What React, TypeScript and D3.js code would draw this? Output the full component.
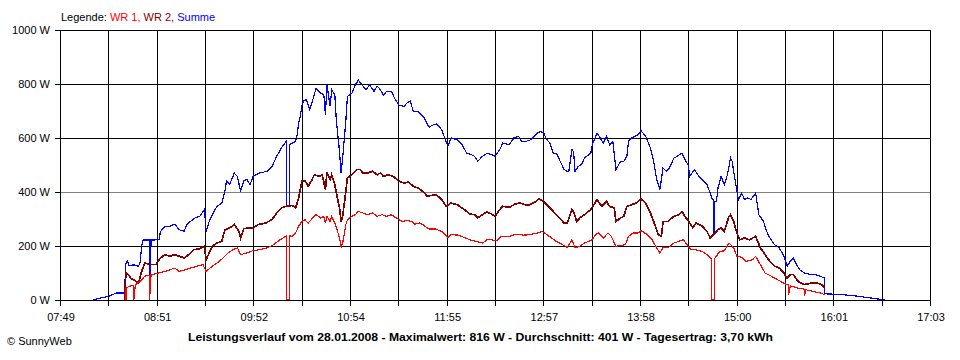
import React from 'react';
import * as d3 from 'd3';

// time in minutes since midnight, value in W
const wr1: [number, number][] = [
[511,0],[511,44],[513,50],[516,55],[516,0],[517,57],[520,69],[523,88],[526,92],[526,0],[527,94],[532,100],[536,106],[539,112],[542,118],[545,106],[549,112],[552,118],[556,125],[560,131],[562,106],[566,125],[569,137],[573,156],[576,174],[579,186],[582,193],[584,168],[588,174],[592,183],[596,186],[601,193],[605,205],[609,223],[613,236],[613,0],[615,0],[615,238],[617,236],[619,248],[621,273],[623,291],[625,297],[627,285],[630,304],[632,316],[635,304],[637,310],[638,285],[639,310],[641,291],[642,310],[644,285],[645,267],[647,230],[648,195],[649,211],[651,279],[652,297],[655,310],[657,316],[659,328],[662,322],[665,316],[668,322],[671,310],[674,316],[677,310],[680,316],[683,304],[687,291],[690,294],[693,291],[695,281],[698,285],[700,279],[704,263],[708,263],[712,254],[716,232],[718,242],[723,240],[727,230],[731,221],[734,217],[738,211],[741,223],[744,223],[747,219],[750,236],[755,236],[760,244],[764,240],[768,242],[773,248],[776,254],[779,242],[782,230],[785,217],[789,205],[792,195],[795,223],[797,193],[800,199],[803,211],[808,223],[810,242],[812,248],[815,230],[818,248],[820,236],[823,199],[826,202],[829,205],[831,236],[834,248],[837,248],[839,257],[843,242],[846,223],[849,193],[851,174],[853,195],[856,193],[860,211],[863,217],[866,223],[869,199],[871,186],[874,186],[878,180],[881,168],[883,156],[884,150],[884,0],[886,0],[886,155],[887,162],[889,180],[892,182],[895,211],[898,193],[900,162],[903,158],[906,143],[910,149],[912,162],[915,131],[918,100],[922,88],[926,75],[931,59],[933,55],[933,20],[934,52],[935,51],[939,44],[943,40],[943,14],[944,38],[946,35],[950,30],[953,26],[956,20]
];

const wr2: [number, number][] = [
[510,0],[511,100],[513,90],[514,80],[516,75],[519,63],[521,106],[523,137],[526,131],[530,131],[533,156],[536,168],[539,162],[542,168],[545,162],[548,156],[551,168],[554,186],[558,190],[561,199],[562,149],[566,199],[569,211],[572,217],[574,260],[577,267],[580,279],[583,254],[584,230],[586,264],[589,267],[592,267],[595,279],[600,285],[604,298],[607,322],[610,341],[613,347],[617,350],[619,341],[621,378],[623,440],[625,442],[627,421],[629,440],[631,464],[634,457],[636,464],[638,409],[639,474],[641,446],[642,464],[644,427],[645,396],[647,341],[648,291],[649,310],[651,402],[652,452],[655,464],[658,483],[660,483],[662,470],[665,470],[668,477],[671,464],[673,470],[675,458],[678,464],[681,458],[685,440],[688,433],[691,437],[694,421],[697,415],[700,402],[703,384],[706,388],[709,388],[712,372],[715,347],[718,359],[722,353],[725,341],[728,328],[730,318],[733,316],[735,304],[738,316],[741,326],[744,318],[746,310],[749,335],[751,347],[755,343],[759,356],[762,359],[765,353],[768,353],[772,365],[774,374],[777,365],[779,353],[782,335],[785,316],[787,304],[790,285],[792,285],[795,335],[796,328],[798,291],[800,304],[803,316],[807,335],[809,353],[811,372],[814,347],[817,365],[819,347],[822,341],[823,291],[826,304],[828,310],[830,347],[833,353],[836,359],[839,374],[842,359],[845,322],[847,291],[850,242],[852,236],[853,291],[856,291],[860,310],[863,316],[865,328],[867,310],[870,285],[872,267],[874,285],[878,273],[881,254],[883,230],[885,242],[888,260],[890,267],[892,254],[895,310],[896,316],[898,291],[900,248],[902,223],[905,230],[908,223],[912,236],[915,193],[918,168],[921,143],[924,125],[927,119],[930,100],[932,81],[934,94],[936,94],[939,69],[943,57],[948,63],[951,63],[954,57],[956,44]
];

const summe: [number, number][] = [
[490,0],[494,6],[500,14],[505,26],[510,26],[511,135],[512,145],[513,128],[516,130],[519,125],[520,140],[521,199],[522,222],[526,222],[526,5],[527,222],[532,223],[533,254],[536,273],[539,273],[542,281],[545,260],[548,255],[550,281],[552,291],[555,304],[558,310],[561,335],[562,254],[564,291],[567,328],[569,347],[572,359],[574,402],[575,440],[577,428],[580,470],[582,457],[584,402],[586,442],[588,446],[590,428],[592,458],[596,470],[601,477],[604,495],[607,532],[610,563],[613,588],[613,347],[615,347],[615,575],[619,588],[620,610],[621,656],[622,680],[623,717],[624,738],[626,742],[628,705],[630,742],[632,783],[635,767],[637,760],[638,686],[639,797],[641,717],[642,779],[644,760],[645,662],[647,550],[648,470],[649,526],[651,662],[652,754],[655,767],[657,797],[659,814],[662,792],[664,779],[666,797],[669,773],[671,792],[673,779],[675,758],[677,773],[680,773],[682,748],[685,721],[688,717],[690,730],[692,736],[694,699],[697,699],[699,686],[701,674],[704,640],[707,650],[709,652],[712,631],[714,600],[716,569],[718,600],[722,594],[725,575],[728,544],[731,538],[733,532],[735,514],[738,532],[741,544],[744,538],[746,532],[749,557],[751,581],[755,575],[758,600],[761,606],[763,588],[766,588],[769,594],[773,618],[775,625],[777,618],[779,594],[781,581],[783,544],[785,544],[787,520],[790,483],[792,477],[793,477],[795,557],[796,550],[797,477],[799,495],[801,501],[803,526],[807,544],[808,575],[811,618],[813,600],[815,581],[817,606],[819,575],[821,588],[823,483],[826,514],[828,514],[830,532],[831,588],[833,600],[835,606],[837,612],[839,627],[842,606],[845,563],[847,514],[849,446],[851,409],[853,489],[855,477],[857,489],[860,526],[862,532],[865,544],[867,520],[869,501],[870,458],[873,483],[875,464],[878,446],[881,427],[883,396],[884,378],[885,372],[885,242],[886,242],[886,365],[887,365],[888,415],[890,458],[892,427],[894,464],[896,526],[897,514],[899,440],[901,372],[903,396],[905,372],[907,378],[909,372],[912,396],[914,316],[917,291],[919,254],[921,230],[924,205],[927,193],[930,162],[932,125],[934,143],[936,156],[938,131],[940,112],[943,100],[947,94],[950,94],[953,88],[956,81],[956,23],[960,22],[967,20],[977,14],[986,7],[994,0]
];

const xTickLabels = ["07:49", "08:51", "09:52", "10:54", "11:55", "12:57", "13:58", "15:00", "16:01", "17:03"];
const yTickValues = [0, 200, 400, 600, 800, 1000];
const timeStart = 469; // 07:49
const timeEnd = 1023;  // 17:03
const gridDivisions = 18;

const legendPrefix = "Legende: ";
const seriesNames = ["WR 1", "WR 2", "Summe"];
const titleText = "Leistungsverlauf vom 28.01.2008 - Maximalwert: 816 W - Durchschnitt: 401 W - Tagesertrag: 3,70 kWh";
const footerText = "\u00A9 SunnyWeb";

const FONT = "'Liberation Sans', Arial, sans-serif";

export default function App() {
  const W = 960, H = 360;
  const x = d3.scaleLinear().domain([timeStart, timeEnd]).range([60, 930]);
  const y = d3.scaleLinear().domain([0, 1000]).range([300, 30]);
  const line = d3.line<[number, number]>().x(d => x(d[0])).y(d => y(d[1]));
  const gridTimes = d3.range(gridDivisions + 1).map(i => timeStart + (i * (timeEnd - timeStart)) / gridDivisions);
  const px = (v: number) => Math.round(v) + 0.5;

  const series = [
    { data: summe, color: '#0000ff', w: 1.2 },
    { data: wr2, color: '#800000', w: 1.7 },
    { data: wr1, color: '#ff0000', w: 1.2 },
  ];
  const legendColors = ['#ff0000', '#800000', '#0000ff'];

  return (
    <svg width={W} height={H} style={{ position: 'absolute', left: 0, top: 0, background: '#fff' }} fontFamily={FONT}>
      <rect x={0} y={0} width={W} height={H} fill="#fff" />
      {/* horizontal grid */}
      {yTickValues.map(v => (
        <g key={'h' + v}>
          <line x1={55} x2={930} y1={px(y(v))} y2={px(y(v))} stroke={v === 400 ? '#808080' : '#000'} strokeWidth={1} shapeRendering="crispEdges" />
          <line x1={55} x2={60} y1={px(y(v))} y2={px(y(v))} stroke="#000" strokeWidth={1} shapeRendering="crispEdges" />
          <text x={50} y={y(v) + 4} fontSize={11} textAnchor="end" fill="#000">{v + ' W'}</text>
        </g>
      ))}
      {/* vertical grid */}
      {gridTimes.map((t, i) => (
        <line key={'v' + i} x1={px(x(t))} x2={px(x(t))} y1={30} y2={306} stroke="#000" strokeWidth={1} shapeRendering="crispEdges" />
      ))}
      {xTickLabels.map((lab, i) => (
        <text key={'xl' + i} x={x(gridTimes[i * 2]) + 1} y={321} fontSize={11} textAnchor="middle" fill="#000">{lab}</text>
      ))}
      {/* series */}
      <defs>
        <clipPath id="clip"><rect x={60} y={28} width={871} height={273} /></clipPath>
      </defs>
      <g clipPath="url(#clip)">
        {series.map((s, i) => (
          <path key={'s' + i} d={line(s.data) || ''} fill="none" stroke={s.color} strokeWidth={s.w} strokeLinejoin="miter" shapeRendering="crispEdges" />
        ))}
      </g>
      {/* x axis redraw on top */}
      <line x1={55} x2={930} y1={px(y(0))} y2={px(y(0))} stroke="#000" strokeWidth={1} shapeRendering="crispEdges" />
      {/* legend */}
      <text x={61} y={21} fontSize={11} fill="#000">
        <tspan>{legendPrefix}</tspan>
        {seriesNames.map((n, i) => (
          <tspan key={n} fill={legendColors[i]}>{n + (i < seriesNames.length - 1 ? ', ' : '')}</tspan>
        ))}
      </text>
      <text x={480.5} y={341} fontSize={11} fontWeight="bold" textAnchor="middle" textLength={585} lengthAdjust="spacingAndGlyphs" fill="#000">{titleText}</text>
      <text x={7} y={345} fontSize={11} fill="#000">{footerText}</text>
    </svg>
  );
}
